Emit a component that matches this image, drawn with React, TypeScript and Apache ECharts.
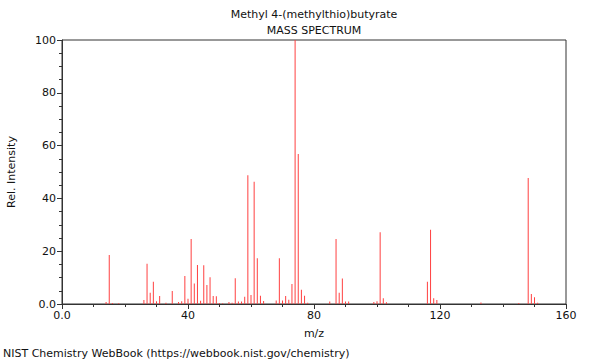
import React, { useEffect, useRef } from "react";
import * as echarts from "echarts";

const titleText = "Methyl 4-(methylthio)butyrate";
const subtitleText = "MASS SPECTRUM";
const footerText = "NIST Chemistry WebBook (https://webbook.nist.gov/chemistry)";
const xAxisName = "m/z";
const yAxisName = "Rel. Intensity";

const mz = [14, 15, 16, 18, 26, 27, 28, 29, 30, 31, 33, 35, 37, 38, 39, 40, 41, 42, 43, 44, 45, 46, 47, 48, 49, 50, 51, 53, 54, 55, 56, 57, 58, 59, 60, 61, 62, 63, 64, 68, 69, 70, 71, 72, 73, 74, 75, 76, 77, 78, 85, 87, 88, 89, 90, 91, 99, 100, 101, 102, 103, 116, 117, 118, 119, 133, 145, 148, 149, 150, 151];
const intensity = [0.8, 18.6, 0.4, 0.3, 1.5, 15.2, 4.3, 8.4, 1.0, 3.0, 0.5, 4.9, 0.8, 1.0, 10.6, 2.0, 24.6, 7.8, 14.8, 1.2, 14.7, 7.2, 10.1, 3.0, 2.9, 0.4, 0.3, 0.8, 0.5, 9.8, 0.9, 0.9, 2.7, 48.8, 3.4, 46.3, 17.3, 3.1, 1.1, 1.3, 17.3, 1.3, 3.0, 1.6, 7.6, 100, 56.8, 5.4, 3.1, 0.5, 0.9, 24.6, 4.3, 9.7, 0.9, 0.9, 0.8, 1.0, 27.2, 2.2, 0.7, 8.4, 28.1, 2.2, 1.5, 0.6, 0.4, 47.7, 3.8, 2.6, 0.5];

const FONT = "DejaVu Sans";

export default function App() {
  const ref = useRef<HTMLDivElement>(null);
  useEffect(() => {
    if (!ref.current) return;
    const chart = echarts.init(ref.current, null, { renderer: "svg" });
    const data = mz.map((m, i) => [m, intensity[i]]);
    chart.setOption({
      animation: false,
      textStyle: { fontFamily: FONT },
      grid: {
        left: 62,
        right: 34,
        top: 40,
        bottom: 56,
        show: true,
        borderColor: "#333",
        borderWidth: 1,
        backgroundColor: "transparent",
      },
      xAxis: {
        type: "value",
        min: 0,
        max: 160,
        interval: 40,
        axisLine: { show: true, lineStyle: { color: "#333", width: 1 } },
        axisTick: { show: true, length: 5, lineStyle: { color: "#333" } },
        minorTick: { show: true, splitNumber: 4, length: 3, lineStyle: { color: "#333" } },
        splitLine: { show: false },
        axisLabel: {
          color: "#111",
          fontSize: 11,
          fontFamily: FONT,
          margin: 6,
          formatter: (v: number) => (v === 0 ? "0.0" : String(v)),
        },
      },
      yAxis: {
        type: "value",
        min: 0,
        max: 100,
        interval: 20,
        axisLine: { show: true, lineStyle: { color: "#333", width: 1 } },
        axisTick: { show: true, length: 5, lineStyle: { color: "#333" } },
        minorTick: { show: true, splitNumber: 4, length: 3, lineStyle: { color: "#333" } },
        splitLine: { show: false },
        axisLabel: {
          color: "#111",
          fontSize: 11,
          fontFamily: FONT,
          margin: 6,
          formatter: (v: number) => (v === 0 ? "0.0" : String(v)),
        },
      },
      series: [
        {
          type: "bar",
          data,
          barWidth: 1,
          itemStyle: { color: "#ff4040" },
          silent: true,
        },
      ],
      graphic: [
        {
          type: "text",
          x: 314,
          y: 14,
          style: { text: titleText, fill: "#111", font: `11px '${FONT}'`, align: "center", verticalAlign: "middle" },
        },
        {
          type: "text",
          x: 314,
          y: 30,
          style: { text: subtitleText, fill: "#111", font: `11px '${FONT}'`, align: "center", verticalAlign: "middle" },
        },
        {
          type: "text",
          x: 314,
          y: 333,
          style: { text: xAxisName, fill: "#111", font: `11px '${FONT}'`, align: "center", verticalAlign: "middle" },
        },
        {
          type: "text",
          x: 11,
          y: 172,
          rotation: Math.PI / 2,
          style: { text: yAxisName, fill: "#111", font: `11px '${FONT}'`, align: "center", verticalAlign: "middle" },
        },
        {
          type: "text",
          x: 3,
          y: 353,
          style: { text: footerText, fill: "#111", font: `11px '${FONT}'`, align: "left", verticalAlign: "middle" },
        },
      ],
    });
    return () => chart.dispose();
  }, []);
  return <div ref={ref} style={{ position: "absolute", left: 0, top: 0, width: 600, height: 360 }} />;
}
